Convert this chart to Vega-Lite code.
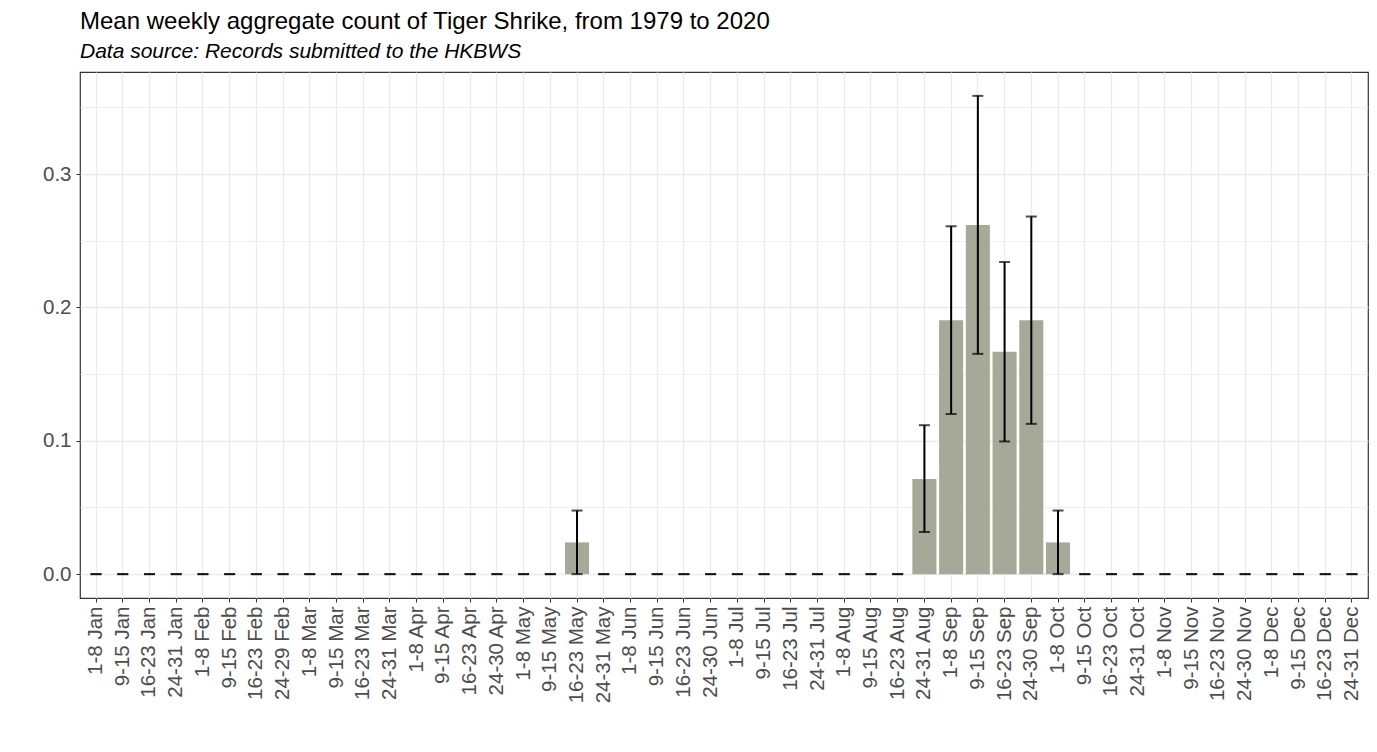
{
  "$schema": "https://vega.github.io/schema/vega-lite/v6.json",
  "width": 1288,
  "height": 526,
  "autosize": {"type": "none"},
  "padding": {"left": 80, "top": 72, "right": 9, "bottom": 154},
  "background": "white",
  "title": {
    "text": "Mean weekly aggregate count of Tiger Shrike, from 1979 to 2020",
    "subtitle": "Data source: Records submitted to the HKBWS",
    "anchor": "start",
    "frame": "group",
    "offset": 10,
    "font": "Liberation Sans",
    "fontSize": 24,
    "fontWeight": "normal",
    "color": "black",
    "subtitleFont": "Liberation Sans",
    "subtitleFontSize": 21,
    "subtitleFontStyle": "italic",
    "subtitleColor": "black",
    "subtitlePadding": 7
  },
  "config": {
    "view": {"stroke": "#333333", "strokeWidth": 1.2},
    "axis": {
      "labelFont": "Liberation Sans",
      "labelColor": "#4d4d4d",
      "domain": false,
      "tickColor": "#333333",
      "tickSize": 4,
      "gridColor": "#ebebeb",
      "title": null
    }
  },
  "data": {
    "values": [
      {"week": "1-8 Jan", "mean": 0, "lo": 0, "hi": 0},
      {"week": "9-15 Jan", "mean": 0, "lo": 0, "hi": 0},
      {"week": "16-23 Jan", "mean": 0, "lo": 0, "hi": 0},
      {"week": "24-31 Jan", "mean": 0, "lo": 0, "hi": 0},
      {"week": "1-8 Feb", "mean": 0, "lo": 0, "hi": 0},
      {"week": "9-15 Feb", "mean": 0, "lo": 0, "hi": 0},
      {"week": "16-23 Feb", "mean": 0, "lo": 0, "hi": 0},
      {"week": "24-29 Feb", "mean": 0, "lo": 0, "hi": 0},
      {"week": "1-8 Mar", "mean": 0, "lo": 0, "hi": 0},
      {"week": "9-15 Mar", "mean": 0, "lo": 0, "hi": 0},
      {"week": "16-23 Mar", "mean": 0, "lo": 0, "hi": 0},
      {"week": "24-31 Mar", "mean": 0, "lo": 0, "hi": 0},
      {"week": "1-8 Apr", "mean": 0, "lo": 0, "hi": 0},
      {"week": "9-15 Apr", "mean": 0, "lo": 0, "hi": 0},
      {"week": "16-23 Apr", "mean": 0, "lo": 0, "hi": 0},
      {"week": "24-30 Apr", "mean": 0, "lo": 0, "hi": 0},
      {"week": "1-8 May", "mean": 0, "lo": 0, "hi": 0},
      {"week": "9-15 May", "mean": 0, "lo": 0, "hi": 0},
      {"week": "16-23 May", "mean": 0.0238, "lo": 0, "hi": 0.0477},
      {"week": "24-31 May", "mean": 0, "lo": 0, "hi": 0},
      {"week": "1-8 Jun", "mean": 0, "lo": 0, "hi": 0},
      {"week": "9-15 Jun", "mean": 0, "lo": 0, "hi": 0},
      {"week": "16-23 Jun", "mean": 0, "lo": 0, "hi": 0},
      {"week": "24-30 Jun", "mean": 0, "lo": 0, "hi": 0},
      {"week": "1-8 Jul", "mean": 0, "lo": 0, "hi": 0},
      {"week": "9-15 Jul", "mean": 0, "lo": 0, "hi": 0},
      {"week": "16-23 Jul", "mean": 0, "lo": 0, "hi": 0},
      {"week": "24-31 Jul", "mean": 0, "lo": 0, "hi": 0},
      {"week": "1-8 Aug", "mean": 0, "lo": 0, "hi": 0},
      {"week": "9-15 Aug", "mean": 0, "lo": 0, "hi": 0},
      {"week": "16-23 Aug", "mean": 0, "lo": 0, "hi": 0},
      {"week": "24-31 Aug", "mean": 0.0714, "lo": 0.0316, "hi": 0.1117},
      {"week": "1-8 Sep", "mean": 0.1905, "lo": 0.1201, "hi": 0.2609},
      {"week": "9-15 Sep", "mean": 0.2619, "lo": 0.1652, "hi": 0.3587},
      {"week": "16-23 Sep", "mean": 0.1667, "lo": 0.0995, "hi": 0.2341},
      {"week": "24-30 Sep", "mean": 0.1905, "lo": 0.1127, "hi": 0.2682},
      {"week": "1-8 Oct", "mean": 0.0238, "lo": 0, "hi": 0.0477},
      {"week": "9-15 Oct", "mean": 0, "lo": 0, "hi": 0},
      {"week": "16-23 Oct", "mean": 0, "lo": 0, "hi": 0},
      {"week": "24-31 Oct", "mean": 0, "lo": 0, "hi": 0},
      {"week": "1-8 Nov", "mean": 0, "lo": 0, "hi": 0},
      {"week": "9-15 Nov", "mean": 0, "lo": 0, "hi": 0},
      {"week": "16-23 Nov", "mean": 0, "lo": 0, "hi": 0},
      {"week": "24-30 Nov", "mean": 0, "lo": 0, "hi": 0},
      {"week": "1-8 Dec", "mean": 0, "lo": 0, "hi": 0},
      {"week": "9-15 Dec", "mean": 0, "lo": 0, "hi": 0},
      {"week": "16-23 Dec", "mean": 0, "lo": 0, "hi": 0},
      {"week": "24-31 Dec", "mean": 0, "lo": 0, "hi": 0}
    ]
  },
  "encoding": {
    "x": {
      "field": "week",
      "type": "nominal",
      "sort": null,
      "scale": {"paddingInner": 0.1, "paddingOuter": 0.15},
      "axis": {
        "labelAngle": -90,
        "labelFontSize": 20.5,
        "labelPadding": 4,
        "bandPosition": 0.5,
        "grid": true,
        "gridWidth": 1.4
      }
    }
  },
  "layer": [
    {
      "mark": {"type": "bar", "color": "#a6a898"},
      "encoding": {
        "y": {
          "field": "mean",
          "type": "quantitative",
          "scale": {"domain": [-0.0179, 0.3766], "nice": false, "zero": false},
          "axis": {
            "values": [0, 0.05, 0.1, 0.15, 0.2, 0.25, 0.3, 0.35],
            "labelExpr": "round(datum.value * 20) % 2 == 0 ? format(datum.value, '.1f') : ''",
            "labelFontSize": 20.5,
            "labelPadding": 5,
            "tickOpacity": {"condition": {"test": "round(datum.value * 20) % 2 == 1", "value": 0}, "value": 1},
            "gridWidth": {"condition": {"test": "round(datum.value * 20) % 2 == 1", "value": 0.8}, "value": 1.4}
          }
        },
        "y2": {"datum": 0}
      }
    },
    {
      "mark": {"type": "rule", "color": "black", "strokeWidth": 2},
      "encoding": {
        "y": {"field": "lo", "type": "quantitative"},
        "y2": {"field": "hi"}
      }
    },
    {
      "mark": {"type": "tick", "color": "black", "size": 11, "thickness": 2},
      "encoding": {"y": {"field": "lo", "type": "quantitative"}}
    },
    {
      "mark": {"type": "tick", "color": "black", "size": 11, "thickness": 2},
      "encoding": {"y": {"field": "hi", "type": "quantitative"}}
    }
  ]
}
